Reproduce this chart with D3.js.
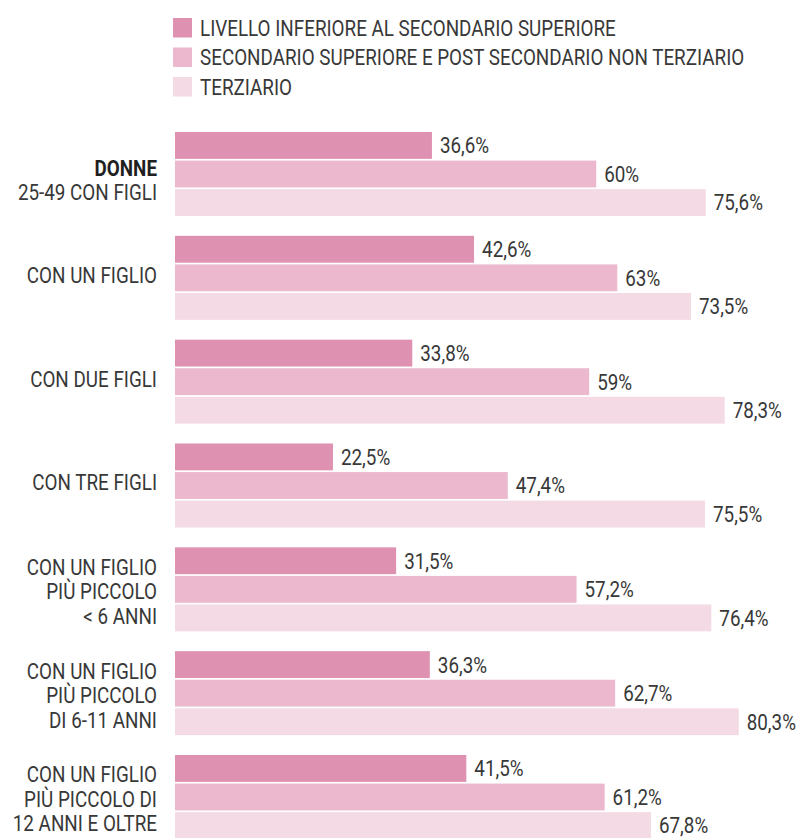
<!DOCTYPE html>
<html lang="it">
<head>
<meta charset="UTF-8">
<title>Donne 25-49 con figli</title>
<style>
  body { margin: 0; background: #fff; }
  text { font-family: Roboto, "Liberation Sans", sans-serif; font-weight: 400; fill: #383838; }
</style>
</head>
<body>
<div id="chart"></div>
<script src="https://d3js.org/d3.v7.min.js"></script>
<script>
// data
var series = ["LIVELLO INFERIORE AL SECONDARIO SUPERIORE",
              "SECONDARIO SUPERIORE E POST SECONDARIO NON TERZIARIO",
              "TERZIARIO"];
var groups = ["g1", "g2", "g3", "g4", "g5", "g6", "g7"];
var groupLabels = [
  ["DONNE", "25-49 CON FIGLI"],
  ["CON UN FIGLIO"],
  ["CON DUE FIGLI"],
  ["CON TRE FIGLI"],
  ["CON UN FIGLIO", "PIÙ PICCOLO", "< 6 ANNI"],
  ["CON UN FIGLIO", "PIÙ PICCOLO", "DI 6-11 ANNI"],
  ["CON UN FIGLIO", "PIÙ PICCOLO DI", "12 ANNI E OLTRE"]
];
var inferiore  = [36.6, 42.6, 33.8, 22.5, 31.5, 36.3, 41.5];
var secondario = [60, 63, 59, 47.4, 57.2, 62.7, 61.2];
var terziario  = [75.6, 73.5, 78.3, 75.5, 76.4, 80.3, 67.8];
var colors = ["#de91b1", "#ebb8cd", "#f3dae4"];

var width = 808, height = 838;
var fontSize = 22;
var svg = d3.select("#chart").append("svg")
    .attr("width", width)
    .attr("height", height);

// condensed look: squeeze the text horizontally
var probe = svg.append("text").style("font-size", fontSize + "px").text(series[0]);
var squeeze = 416 / probe.node().getComputedTextLength();
probe.remove();

function label(sel, x, y, anchor) {
  return sel.append("text")
    .attr("transform", "translate(" + x + "," + y + ") scale(" + squeeze + ",1)")
    .attr("dy", "0.36em")
    .attr("text-anchor", anchor || "start")
    .style("font-size", fontSize + "px");
}

// scales
var x = d3.scaleLinear().domain([0, 100]).range([175, 877]);
var y0 = d3.scaleBand().domain(groups).range([132, 839]).paddingInner(0.191).paddingOuter(0);
var y1 = d3.scaleBand().domain(series).range([0, y0.bandwidth()]).paddingInner(0.06);

var fmt = function(v) { return String(v).replace(".", ",") + "%"; };

// legend
var legend = svg.append("g").selectAll("g")
    .data(series)
    .enter().append("g")
    .attr("transform", function(d, i) { return "translate(173," + (18 + i * 29.5) + ")"; });
legend.append("rect")
    .attr("width", 19).attr("height", 19.5)
    .attr("fill", function(d, i) { return colors[i]; });
legend.each(function(d) { label(d3.select(this), 27, 10).text(d); });

// bars
var rows = groups.map(function(g, i) {
  return { group: g, labels: groupLabels[i], values: [inferiore[i], secondario[i], terziario[i]] };
});

var gs = svg.append("g").selectAll("g")
    .data(rows)
    .enter().append("g")
    .attr("transform", function(d) { return "translate(0," + y0(d.group) + ")"; });

gs.selectAll("rect")
    .data(function(d) { return d.values.map(function(v, i) { return { s: series[i], v: v, i: i }; }); })
    .enter().append("rect")
    .attr("x", x(0))
    .attr("y", function(d) { return y1(d.s); })
    .attr("width", function(d) { return x(d.v) - x(0); })
    .attr("height", y1.bandwidth())
    .attr("fill", function(d) { return colors[d.i]; });

gs.each(function(d) {
  var g = d3.select(this);
  // value labels
  d.values.forEach(function(v, i) {
    label(g, x(v) + 8, y1(series[i]) + y1.bandwidth() / 2).text(fmt(v));
  });
  // category labels
  var n = d.labels.length;
  var lineH = 24.5;
  var cy = y0.bandwidth() / 2 + (n === 2 ? 6 : n === 1 ? -3 : 2);
  d.labels.forEach(function(l, j) {
    var t = label(g, 157, cy + (j - (n - 1) / 2) * lineH, "end").text(l);
    if (d.group === "g1" && j === 0) {
      t.style("font-weight", "bold").style("fill", "#1f1f1f");
    }
  });
});
</script>
</body>
</html>
